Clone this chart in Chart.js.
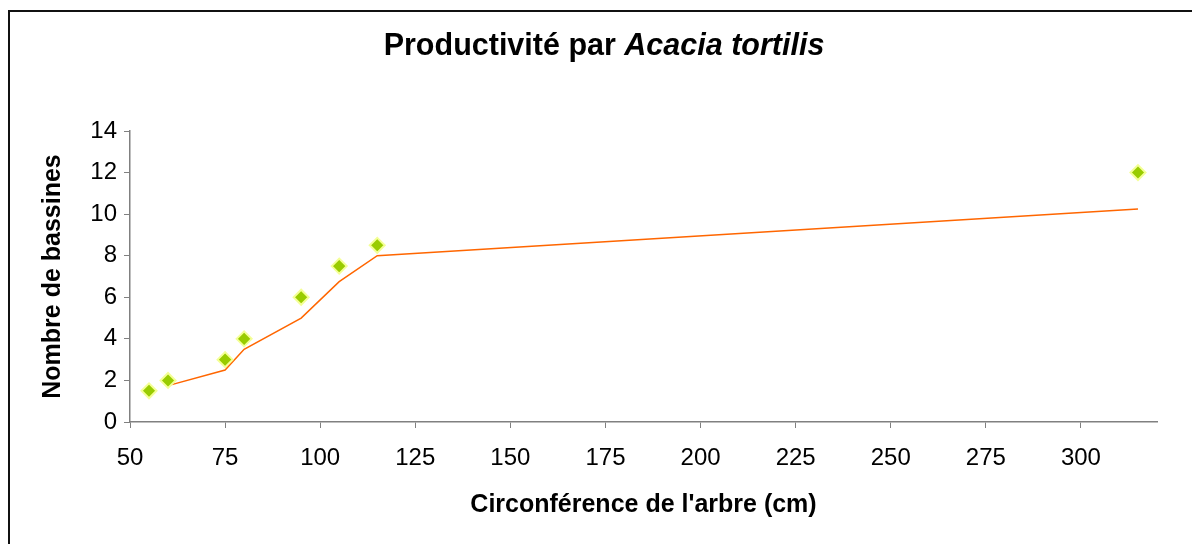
<!DOCTYPE html>
<html>
<head>
<meta charset="utf-8">
<title>Productivité par Acacia tortilis</title>
<script src="https://cdn.jsdelivr.net/npm/chart.js@4/dist/chart.umd.min.js"></script>
<style>
  html, body { margin: 0; padding: 0; background: #fff; }
  #wrap { position: relative; width: 1192px; height: 544px; }
</style>
</head>
<body>
<div id="wrap"><canvas id="chart" width="1192" height="544"></canvas></div>
<script>
// ====== Data ======
const circumference = [55, 60, 75, 80, 95, 105, 115, 315];
const basins = [1.5, 2, 3, 4, 6, 7.5, 8.5, 12];
// moving-average trend line (starts at the 2nd point)
const trendX = [60, 75, 80, 95, 105, 115, 315];
const trendY = [1.75, 2.5, 3.5, 5, 6.75, 8, 10.25];
const xTicks = [50, 75, 100, 125, 150, 175, 200, 225, 250, 275, 300];
const yTicks = [0, 2, 4, 6, 8, 10, 12, 14];

const FONT = "'Liberation Sans', Arial, sans-serif";
const AXIS = "#808080";

// frame + mixed bold/italic title
const decor = {
  id: "decor",
  beforeDraw(chart) {
    const ctx = chart.ctx;
    ctx.save();
    ctx.fillStyle = "#fff";
    ctx.fillRect(0, 0, chart.width, chart.height);
    ctx.strokeStyle = "#111";
    ctx.lineWidth = 2;
    ctx.beginPath();
    ctx.moveTo(9, chart.height);
    ctx.lineTo(9, 11);
    ctx.lineTo(chart.width, 11);
    ctx.stroke();
    ctx.restore();
  },
  afterDraw(chart) {
    const ctx = chart.ctx;
    ctx.save();
    ctx.fillStyle = "#000";
    ctx.textBaseline = "alphabetic";
    const a = "Productivité par ";
    const b = "Acacia tortilis";
    const fa = "bold 30.5px " + FONT;
    const fb = "italic bold 30.5px " + FONT;
    ctx.font = fa;
    const wa = ctx.measureText(a).width;
    ctx.font = fb;
    const wb = ctx.measureText(b).width;
    let x = 604 - (wa + wb) / 2;
    ctx.font = fa;
    ctx.fillText(a, x, 55);
    ctx.font = fb;
    ctx.fillText(b, x + wa, 55);
    ctx.restore();
  },
};

new Chart(document.getElementById("chart"), {
  type: "scatter",
  data: {
    datasets: [
      {
        label: "Nombre de bassines",
        data: circumference.map((x, i) => ({ x, y: basins[i] })),
        pointStyle: "rectRot",
        pointRadius: 7.5,
        pointHoverRadius: 7.5,
        pointBackgroundColor: "#99cc00",
        pointBorderColor: "#f4ff96",
        pointBorderWidth: 2,
        showLine: false,
        order: 1,
      },
      {
        label: "Moyenne mobile",
        data: trendX.map((x, i) => ({ x, y: trendY[i] })),
        showLine: true,
        borderColor: "#ff6600",
        borderWidth: 1.5,
        pointRadius: 0,
        pointHoverRadius: 0,
        order: 2,
      },
    ],
  },
  options: {
    responsive: false,
    animation: false,
    events: [],
    layout: { padding: { left: 0, top: 131, right: 35, bottom: 0 } },
    plugins: {
      legend: { display: false },
      tooltip: { enabled: false },
      title: { display: false },
    },
    scales: {
      x: {
        type: "linear",
        min: 50,
        max: 320,
        afterFit: (s) => { s.height = 122; },
        afterBuildTicks: (s) => { s.ticks = xTicks.map((v) => ({ value: v })); },
        border: { color: AXIS, width: 1.5 },
        grid: { display: true, drawOnChartArea: false, color: AXIS, tickLength: 6, tickWidth: 1 },
        ticks: { color: "#000", font: { family: FONT, size: 24 }, padding: 16, maxRotation: 0, autoSkip: false },
        title: {
          display: true,
          text: "Circonférence de l'arbre (cm)",
          color: "#000",
          font: { family: FONT, size: 25, weight: "bold" },
          padding: { top: 0, bottom: 24 },
        },
      },
      y: {
        min: 0,
        max: 14,
        afterFit: (s) => { s.width = 130; },
        afterBuildTicks: (s) => { s.ticks = yTicks.map((v) => ({ value: v })); },
        border: { color: AXIS, width: 1.5 },
        grid: { display: true, drawOnChartArea: false, color: AXIS, tickLength: 6, tickWidth: 1 },
        ticks: { color: "#000", font: { family: FONT, size: 24 }, padding: 7 },
        title: {
          display: true,
          text: "Nombre de bassines",
          color: "#000",
          font: { family: FONT, size: 25, weight: "bold" },
          padding: { top: 38, bottom: 0 },
        },
      },
    },
  },
  plugins: [decor],
});
</script>
</body>
</html>
